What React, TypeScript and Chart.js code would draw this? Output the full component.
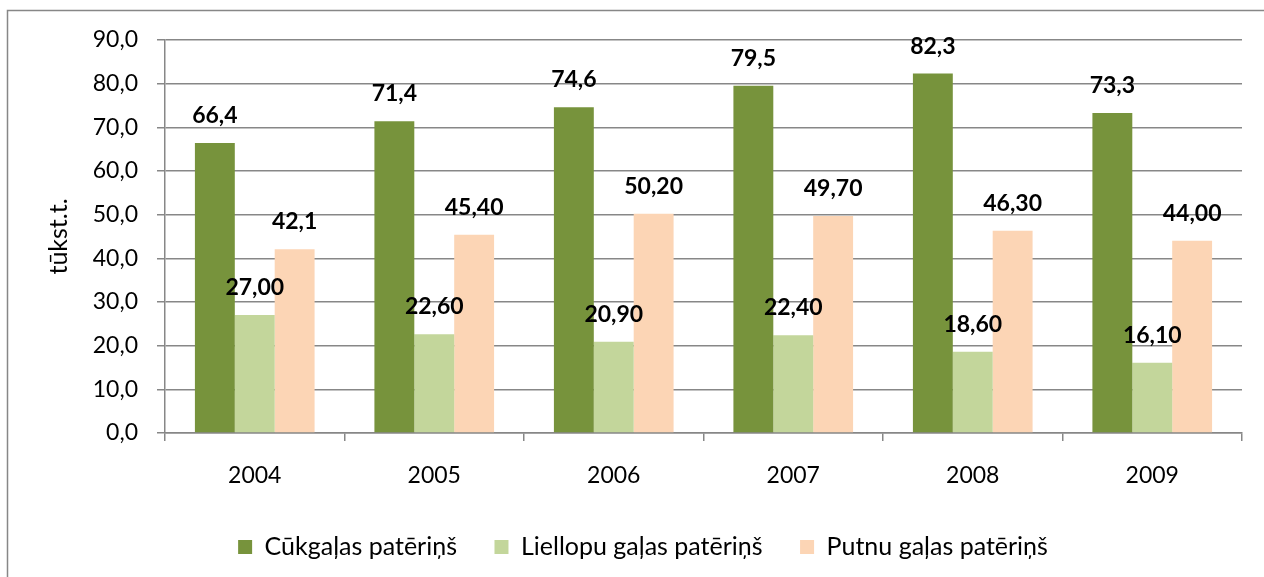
import { useEffect, useRef } from 'react';
import { Chart, registerables } from 'chart.js';

Chart.register(...registerables);

const years = ['2004', '2005', '2006', '2007', '2008', '2009'];
const porkValues = [66.4, 71.4, 74.6, 79.5, 82.3, 73.3];
const beefValues = [27.0, 22.6, 20.9, 22.4, 18.6, 16.1];
const poultryValues = [42.1, 45.4, 50.2, 49.7, 46.3, 44.0];
const porkLabels = ['66,4', '71,4', '74,6', '79,5', '82,3', '73,3'];
const beefLabels = ['27,00', '22,60', '20,90', '22,40', '18,60', '16,10'];
const poultryLabels = ['42,1', '45,40', '50,20', '49,70', '46,30', '44,00'];
const seriesNames = ['Cūkgaļas patēriņš', 'Liellopu gaļas patēriņš', 'Putnu gaļas patēriņš'];
const yAxisTitle = 'tūkst.t.';
const yMin = 0;
const yMax = 90;
const yStep = 10;

const FONT = 'Lato, Carlito, Calibri, "Noto Sans", sans-serif';
const GRID = '#878787';

const dataLabelPlugin = {
  id: 'barValueLabels',
  afterDatasetsDraw(chart: any) {
    const ctx = chart.ctx;
    const labelSets = [porkLabels, beefLabels, poultryLabels];
    ctx.save();
    ctx.font = `bold 23px ${FONT}`;
    ctx.fillStyle = '#000000';
    ctx.textAlign = 'center';
    ctx.textBaseline = 'alphabetic';
    chart.data.datasets.forEach((_ds: any, di: number) => {
      const meta = chart.getDatasetMeta(di);
      meta.data.forEach((el: any, i: number) => {
        ctx.fillText(labelSets[di][i], el.x, el.y - 20);
      });
    });
    ctx.restore();
  },
};

const framePlugin = {
  id: 'frame',
  beforeDraw(chart: any) {
    const ctx = chart.ctx;
    ctx.save();
    ctx.fillStyle = '#ffffff';
    ctx.fillRect(0, 0, chart.width, chart.height);
    ctx.strokeStyle = GRID;
    ctx.lineWidth = 1.5;
    ctx.strokeRect(7.5, 10.5, chart.width + 50, chart.height + 50);
    ctx.restore();
  },
};

export default function App() {
  const ref = useRef<HTMLCanvasElement | null>(null);

  useEffect(() => {
    document.body.style.margin = '0';
    document.body.style.overflow = 'hidden';
    const canvas = ref.current;
    if (!canvas) return;
    const chart = new Chart(canvas, {
      type: 'bar',
      data: {
        labels: years,
        datasets: [
          { label: seriesNames[0], data: porkValues, backgroundColor: '#77933C' },
          { label: seriesNames[1], data: beefValues, backgroundColor: '#C3D69B' },
          { label: seriesNames[2], data: poultryValues, backgroundColor: '#FCD5B5' },
        ],
      },
      options: {
        responsive: false,
        animation: false,
        devicePixelRatio: 1,
        layout: { padding: { left: 44, right: 22, top: 40, bottom: 7.5 } },
        datasets: { bar: { categoryPercentage: 0.6667, barPercentage: 1.0, borderWidth: 0 } },
        plugins: {
          tooltip: { enabled: false },
          legend: {
            position: 'bottom',
            labels: {
              boxWidth: 14,
              boxHeight: 14,
              padding: 37.5,
              color: '#000000',
              font: { family: FONT, size: 25 },
            },
          },
        },
        scales: {
          x: {
            afterFit: (s: any) => { s.height = 64; },
            grid: { display: true, drawOnChartArea: false, drawTicks: true, tickLength: 8, color: GRID, lineWidth: 1.5, offset: true },
            border: { display: true, color: GRID, width: 1.5 },
            ticks: { color: '#000000', font: { family: FONT, size: 23 }, padding: 21 },
          },
          y: {
            min: yMin,
            max: yMax,
            afterFit: (s: any) => { s.width = 121; },
            ticks: {
              stepSize: yStep,
              color: '#000000',
              font: { family: FONT, size: 23 },
              padding: 19,
              callback: (v: any) => Number(v).toFixed(1).replace('.', ','),
            },
            grid: { color: GRID, lineWidth: 1.5, tickLength: 8, drawTicks: true },
            border: { display: true, color: GRID, width: 1.5 },
            title: {
              display: true,
              text: yAxisTitle,
              color: '#000000',
              font: { family: FONT, size: 25 },
              padding: { top: 0, bottom: 0 },
            },
          },
        },
      },
      plugins: [framePlugin, dataLabelPlugin],
    });
    return () => chart.destroy();
  }, []);

  return (
    <div style={{ position: 'fixed', left: 0, top: 0, width: 1264, height: 577, background: '#fff' }}>
      <canvas ref={ref} width={1264} height={577} style={{ width: 1264, height: 577, display: 'block' }} />
    </div>
  );
}
